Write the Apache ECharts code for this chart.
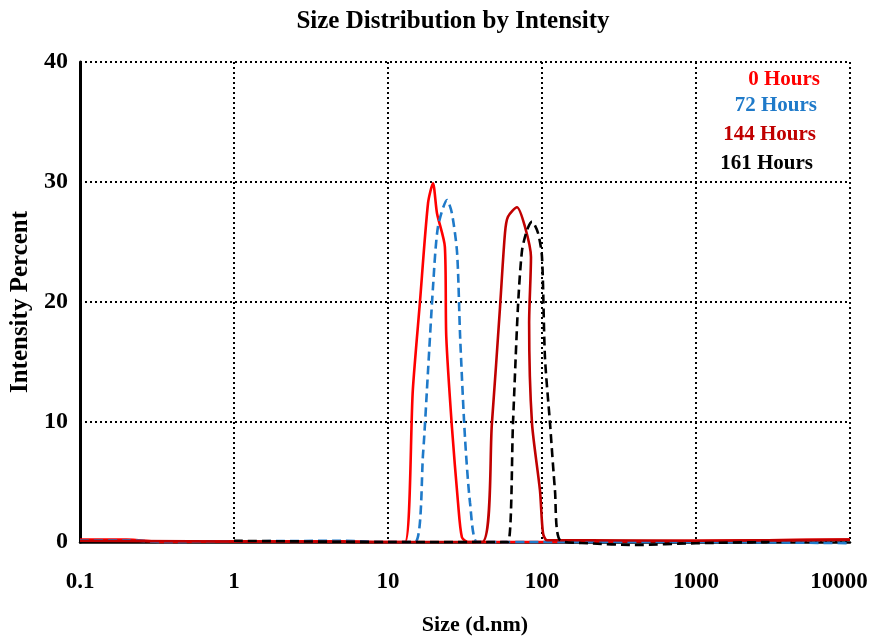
<!DOCTYPE html>
<html><head><meta charset="utf-8">
<script src="https://cdn.jsdelivr.net/npm/echarts@6/dist/echarts.min.js"></script>
<style>html,body{margin:0;padding:0;background:#fff}#c{width:877px;height:643px}</style>
</head><body><div id="c"></div>
<script>
const xTicks = [0.1, 1, 10, 100, 1000, 10000];
const yTicks = [0, 10, 20, 30, 40];
const seriesNames = ['0 Hours', '72 Hours', '144 Hours', '161 Hours'];

const size0h = [0.1, 0.2, 0.35, 1, 5, 10, 12.9, 14.5, 16.1, 18.2, 19.6, 20.8, 23.4, 23.9, 26.0, 28.5, 30.2, 33, 50, 100, 300, 1000, 3000, 10000];
const int0h  = [0.2, 0.2, 0.0, 0.05, 0.05, 0.0, 0.0, 12.7, 19.9, 28.25, 29.9, 27.4, 24.6, 17.1, 9.6, 3.25, 0.4, 0.0, 0.0, 0.0, 0.05, 0.1, 0.15, 0.2];

const size72h = [0.1, 0.2, 0.35, 1, 5, 10, 15.0, 16.9, 18.2, 19.6, 21.1, 24.2, 26.0, 28.1, 29.4, 31.6, 34.1, 37.8, 50, 100, 1000, 10000];
const int72h  = [0.15, 0.15, 0.0, 0.05, 0.1, 0.0, 0.0, 7.4, 14.3, 21.25, 26.25, 28.5, 27.4, 24.1, 17.1, 8.75, 3.25, 0.0, 0.0, 0.0, 0.0, -0.1];

const size144h = [0.1, 10, 40.8, 47.3, 53.4, 57.5, 60.1, 68.8, 77.6, 84.8, 82.5, 86.1, 97.0, 101.5, 107.7, 200, 1000, 10000];
const int144h  = [0.1, 0.0, 0.0, 9.9, 19.6, 25.75, 27.1, 27.9, 26.25, 23.75, 18.25, 9.9, 4.3, 0.75, 0.15, 0.15, 0.1, 0.2];

const size161h = [1, 10, 50, 60.1, 64.8, 69.8, 74.2, 80.0, 86.1, 94.2, 100, 104.5, 112.7, 121.4, 130.9, 200, 400, 1000, 3000];
const int161h  = [0.1, 0.0, 0.0, 0.0, 9.9, 19.6, 24.3, 26.0, 26.7, 25.75, 23.75, 15.4, 9.9, 4.3, 0.15, -0.1, -0.25, -0.1, 0.0];

const colors = ['#ff0000', '#1f7ac9', '#c00000', '#000000'];
const pair = (xs, ys) => xs.map((x, i) => [x, ys[i]]);

const chart = echarts.init(document.getElementById('c'));
const font = '"Liberation Serif", "Times New Roman", serif';
const mk = (name, xs, ys, color, dashed) => ({
  name, type: 'line', data: pair(xs, ys), showSymbol: false, smooth: 0.25, clip: false,
  lineStyle: { color, width: 2.6, type: dashed ? [9, 5] : 'solid' }
});
const legendY = [80, 106, 135, 164];
const legendRight = [820, 817, 816, 813];
const lastTick = xTicks[xTicks.length - 1];
chart.setOption({
  animation: false,
  title: { text: 'Size Distribution by Intensity', left: 448, top: 4, textAlign: 'center',
    textStyle: { fontFamily: font, fontWeight: 'bold', fontSize: 25, color: '#000' } },
  grid: { left: 80, right: 27, top: 62, bottom: 101, outerBoundsMode: 'none', containLabel: false },
  xAxis: { type: 'log', logBase: 10, min: xTicks[0], max: lastTick,
    name: 'Size (d.nm)', nameLocation: 'middle', nameGap: 72,
    nameTextStyle: { fontFamily: font, fontWeight: 'bold', fontSize: 22, color: '#000', padding: [0, 0, 0, 20] },
    axisLine: { lineStyle: { color: '#000', width: 2.5 } },
    axisTick: { show: false },
    axisLabel: { margin: 29, fontFamily: font, fontWeight: 'bold', fontSize: 23, color: '#000',
      formatter: v => (Math.abs(v - lastTick) < 1e-6 ? '{last|' + v + '}' : String(v)),
      rich: { last: { fontFamily: font, fontWeight: 'bold', fontSize: 23, color: '#000', padding: [0, 22, 0, 0] } } },
    splitLine: { show: true, lineStyle: { color: '#000', width: 2, type: [2, 3] } } },
  yAxis: { type: 'value', min: yTicks[0], max: yTicks[yTicks.length - 1], interval: 10,
    name: 'Intensity Percent', nameLocation: 'middle', nameGap: 46,
    nameTextStyle: { fontFamily: font, fontWeight: 'bold', fontSize: 25, color: '#000' },
    axisLine: { show: true, lineStyle: { color: '#000', width: 3 } },
    axisTick: { show: false },
    axisLabel: { margin: 12, fontFamily: font, fontWeight: 'bold', fontSize: 24, color: '#000' },
    splitLine: { show: true, lineStyle: { color: '#000', width: 2, type: [2, 3] } } },
  graphic: seriesNames.map((n, i) => ({
    type: 'text', x: legendRight[i], y: legendY[i],
    style: { text: n, fill: colors[i], font: 'bold 21px ' + font, textAlign: 'right', textVerticalAlign: 'middle' }
  })),
  series: [
    mk(seriesNames[0], size0h, int0h, colors[0], false),
    mk(seriesNames[1], size72h, int72h, colors[1], true),
    mk(seriesNames[2], size144h, int144h, colors[2], false),
    mk(seriesNames[3], size161h, int161h, colors[3], true)
  ]
});
</script></body></html>
